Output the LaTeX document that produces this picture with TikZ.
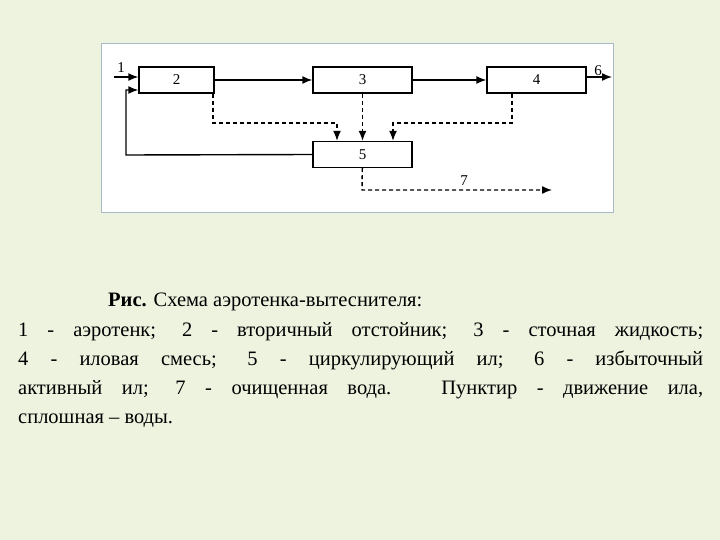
\documentclass[tikz,border=0pt]{standalone}
\usepackage{fontspec}
\setmainfont{Liberation Serif}
\usetikzlibrary{arrows.meta}
\definecolor{bg}{HTML}{EEF3E0}
\definecolor{fr}{HTML}{A9B9C6}
\begin{document}
\begin{tikzpicture}[x=1pt,y=-1pt,
  blk/.style={draw,line width=1.4pt,minimum width=75pt,minimum height=26pt,inner sep=0pt,font=\fontsize{15}{15}\selectfont},
  wide/.style={blk,minimum width=99pt},
  flow/.style={line width=1.4pt,-{Latex[length=10pt,width=8pt]}},
  sludge/.style={flow,dashed,dash pattern=on 4pt off 3pt},
  lbl/.style={font=\fontsize{15}{15}\selectfont},
  captext/.style={anchor=base west,font=\fontsize{20.5}{24}\selectfont,inner sep=0pt}]
\fill[bg] (0,0) rectangle (720,540);
\useasboundingbox (0,0) rectangle (720,540);
\draw[fr,fill=white,line width=1pt] (101,44) rectangle (613,213);
\node[blk] (b2) at (176.5,80) {2};
\node[wide] (b3) at (362.5,80) {3};
\node[wide] (b4) at (536.5,80) {4};
\node[wide] (b5) at (362.5,154.5) {5};
\coordinate (in) at (114,77);
\coordinate (out) at (612,77);
\coordinate (r1) at (126,155);
\coordinate (r2) at (126,90);
\coordinate (d1) at (213,123);
\coordinate (d2) at (337,123);
\coordinate (d3) at (512,123);
\coordinate (d4) at (393,123);
\coordinate (e1) at (362,190);
\coordinate (e2) at (552,190);
\node[lbl] (l1) at (121,68) {1};
\node[lbl] (l6) at (598,71) {6};
\node[lbl] (l7) at (464,181) {7};
\draw[flow] (in) -- (in-|b2.west);
\draw[flow] (b2) -- (b3);
\draw[flow] (b3) -- (b4);
\draw[flow] (b4.east|-out) -- (out);
\draw[flow] (b5.west) -- (r1) -- (r2) -- (r2-|b2.west);
\draw[sludge] (b2.south-|d1) -- (d1) -- (d2) -- (d2|-b5.north);
\draw[sludge] (b3) -- (b5);
\draw[sludge] (b4.south-|d3) -- (d3) -- (d4) -- (d4|-b5.north);
\draw[sludge] (b5) -- (e1) -- (e2);
\node[captext] (c1) at (108,306) {\textbf{Рис.} Схема аэротенка-вытеснителя:};
\node[captext] (c2) at (18,336) {\makebox[685pt][s]{1 - аэротенк; 2 - вторичный отстойник; 3 - сточная жидкость;}};
\node[captext] (c3) at (18,365) {\makebox[685pt][s]{4 - иловая смесь; 5 - циркулирующий ил; 6 - избыточный}};
\node[captext] (c4) at (18,394) {\makebox[685pt][s]{активный ил; 7 - очищенная вода. Пунктир - движение ила,}};
\node[captext] (c5) at (18,423) {сплошная – воды.};
\end{tikzpicture}
\end{document}
